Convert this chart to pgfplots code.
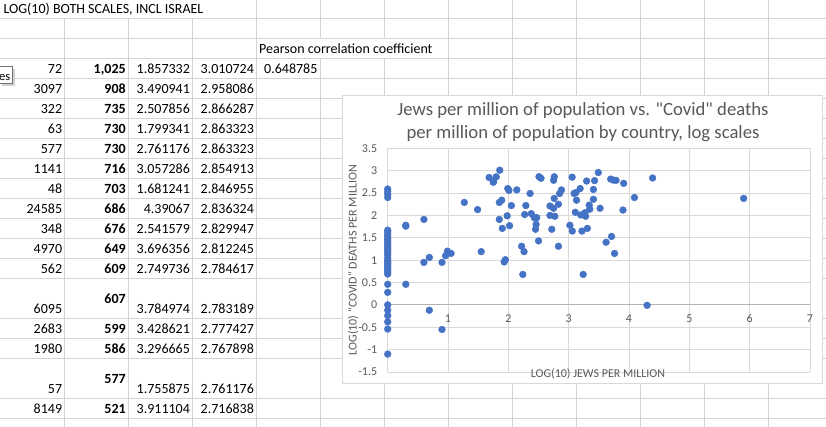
\documentclass[border=0pt]{standalone}
\usepackage{pgfplots}
\pgfplotsset{compat=1.18}
\usepackage{fontspec}
\setmainfont{Carlito}
\newfontfamily\carl{Carlito}
\definecolor{cellgrid}{HTML}{D4D4D4}
\definecolor{chgrid}{HTML}{D9D9D9}
\definecolor{txtgray}{HTML}{595959}
\definecolor{dotblue}{HTML}{4472C4}
\newcommand\cellfont{\fontsize{14}{16}\selectfont}
\newcommand\xrow[5]{%
  \node[anchor=base east,inner sep=0] at (62.3,{#1-4.6}) {#2};
  \node[anchor=base east,inner sep=0,font=\cellfont\bfseries] at (125.9,{#1-4.6}) {#3};
  \node[anchor=base east,inner sep=0] at (190.1,{#1-4.6}) {#4};
  \node[anchor=base east,inner sep=0] at (254.1,{#1-4.6}) {#5};
}
\begin{document}
\begin{tikzpicture}
\begin{scope}[x=1pt,y=-1pt,shift={(0,427pt)},every node/.style={font=\cellfont}]
\clip (0,0) rectangle (826,427);
\fill[white] (0,0) rectangle (826,427);
\foreach \y in {18.3,38.3,58.3,78.3,98.3,118.3,138.3,158.3,178.5,198.5,218.5,238.5,258.5,278.5,318.5,338.5,358.5,398.5,418.5}
  \draw[cellgrid,line width=0.8pt] (0,\y) -- (826,\y);
\foreach \x in {64.3,128.3,192.3,256.3,320.3,384.3,448.3,512.3,576.3,640.3,704.3,768.3}
  \draw[cellgrid,line width=0.8pt] (\x,0) -- (\x,427);
% overflow text hides cell borders
\fill[white] (0,0) rectangle (255.7,17.8);
\fill[white] (256.9,38.8) rectangle (447.7,57.8);
\node[anchor=base west,inner sep=0] at (3.3,13.7) {LOG(10) BOTH SCALES, INCL ISRAEL};
\node[anchor=base west,inner sep=0] at (259,53.7) {Pearson correlation coefficient};
\xrow{78.3}{72}{1,025}{1.857332}{3.010724}
\node[anchor=base east,inner sep=0] at (317.6,73.7) {0.648785};
\xrow{98.3}{3097}{908}{3.490941}{2.958086}
\xrow{118.3}{322}{735}{2.507856}{2.866287}
\xrow{138.3}{63}{730}{1.799341}{2.863323}
\xrow{158.3}{577}{730}{2.761176}{2.863323}
\xrow{178.5}{1141}{716}{3.057286}{2.854913}
\xrow{198.5}{48}{703}{1.681241}{2.846955}
\xrow{218.5}{24585}{686}{4.39067}{2.836324}
\xrow{238.5}{348}{676}{2.541579}{2.829947}
\xrow{258.5}{4970}{649}{3.696356}{2.812245}
\xrow{278.5}{562}{609}{2.749736}{2.784617}
\xrow{318.5}{6095}{}{3.784974}{2.783189}
\node[anchor=base east,inner sep=0,font=\cellfont\bfseries] at (125.9,303.6) {607};
\xrow{338.5}{2683}{599}{3.428621}{2.777427}
\xrow{358.5}{1980}{586}{3.296665}{2.767898}
\xrow{398.5}{57}{}{1.755875}{2.761176}
\node[anchor=base east,inner sep=0,font=\cellfont\bfseries] at (125.9,383.8) {577};
\xrow{418.5}{8149}{521}{3.911104}{2.716838}
% tooltip
\fill[black!18] (2,69.5) rectangle (15.2,86.3);
\draw[black!55,fill=white,line width=0.7pt] (-2,66.7) rectangle (12.7,83.3);
\node[anchor=base east,inner sep=0,font=\fontsize{12.5}{14}\selectfont] at (10.4,80.2) {es};
% chart area
\draw[chgrid,fill=white,line width=0.8pt] (342.5,95) rectangle (822.7,383.3);
\node[font=\carl\fontsize{18.7}{22}\selectfont,text=txtgray,inner sep=0] at (583,110.7) {Jews per million of population vs. "Covid" deaths};
\node[font=\carl\fontsize{18.7}{22}\selectfont,text=txtgray,inner sep=0] at (583,133.3) {per million of population by country, log scales};
\end{scope}
\begin{axis}[
  at={(387.7pt,55pt)}, anchor=south west,
  scale only axis, width=422.3pt, height=223.7pt,
  xmin=0, xmax=7, ymin=-1.5, ymax=3.5,
  axis x line*=middle, axis y line*=left,
  axis line style={chgrid,line width=0.8pt},
  x axis line style={black!30,-}, y axis line style={-},
  grid=major, major grid style={chgrid,line width=0.8pt},
  major tick length=0pt,
  xtick={0,1,2,3,4,5,6,7}, xticklabels={0,1,2,3,4,5,6,7},
  ytick={-1.5,-1,-0.5,0,0.5,1,1.5,2,2.5,3,3.5},
  yticklabels={-1.5,-1,-0.5,0,0.5,1,1.5,2,2.5,3,3.5},
  ticklabel style={font=\carl\fontsize{12}{14}\selectfont,text=txtgray},
  yticklabel style={xshift=-7pt},
  xticklabel style={yshift=-6pt},
  xlabel={LOG(10) JEWS PER MILLION},
  ylabel={LOG(10) "COVID" DEATHS PER MILLION},
  label style={font=\carl\fontsize{12}{14}\selectfont,text=txtgray},
  xlabel style={at={(axis description cs:0.498,-0.01)},anchor=center},
  ylabel style={at={(axis description cs:-0.082,0.5)},anchor=center,rotate=0},
  clip=false,
]
\addplot[only marks, mark=*, mark size=3.4pt, mark options={fill=dotblue,draw=dotblue}] coordinates {
(0,2.59) (0,2.53) (0,2.47) (0,2.40)
(0,1.67) (0,1.63) (0,1.58) (0,1.53) (0,1.48) (0,1.44) (0,1.39) (0,1.35) (0,1.30) (0,1.26) (0,1.21) (0,1.17) (0,1.12)
(0,1.05) (0,1.00) (0,0.97) (0,0.93) (0,0.89) (0,0.85) (0,0.81) (0,0.77) (0,0.73) (0,0.69)
(0,0.46) (0,0.28) (0,0.0) (0,-0.12) (0,-0.24) (0,-0.38) (0,-0.54) (0,-1.1)
(0.30,1.78) (0.30,1.76) (0.30,0.46) (0.60,1.91) (0.60,0.95) (0.69,1.06) (0.69,-0.12)
(0.90,0.95) (0.90,-0.55) (0.96,1.10) (0.99,1.20) (1.05,1.15)
(1.27,2.29) (1.49,2.13) (1.55,1.19)
(1.681241,2.846955) (1.75,2.74) (1.755875,2.761176) (1.799341,2.863323) (1.857332,3.010724)
(1.85,2.29) (1.89,2.34) (1.85,1.91) (1.90,1.71) (1.93,0.96) (1.95,1.01)
(1.99,2.60) (2.01,2.56) (1.98,1.99) (2.02,1.77) (2.05,2.22) (2.14,2.57)
(2.22,1.31) (2.26,1.19) (2.24,0.68) (2.29,2.22) (2.27,2.02) (2.36,2.49) (2.38,2.04)
(2.43,1.95) (2.47,1.95) (2.46,1.80) (2.45,1.69) (2.50,1.43)
(2.507856,2.866287) (2.541579,2.829947)
(2.69,2.21) (2.69,2.00) (2.72,1.69) (2.749736,2.784617) (2.761176,2.863323)
(2.75,2.16) (2.76,2.38) (2.77,1.98) (2.83,2.25) (2.83,1.31) (2.85,2.49) (2.88,2.57)
(3.02,1.78) (3.06,1.65) (3.057286,2.854913) (3.09,2.49) (3.11,2.07) (3.13,2.34) (3.12,2.51)
(3.19,2.60) (3.20,2.01) (3.22,1.65) (3.24,0.68) (3.27,2.06) (3.28,1.98) (3.296665,2.767898)
(3.31,1.71) (3.34,2.23) (3.35,2.14) (3.41,2.36) (3.41,2.58) (3.428621,2.777427) (3.490941,2.958086)
(3.52,2.16) (3.62,1.40) (3.71,1.53) (3.696356,2.812245) (3.74,2.79) (3.784974,2.783189) (3.76,1.15)
(3.90,2.12) (3.911104,2.716838) (4.09,2.40) (4.30,-0.01) (4.39067,2.836324) (5.90,2.38)
};
\end{axis}
\end{tikzpicture}
\end{document}
